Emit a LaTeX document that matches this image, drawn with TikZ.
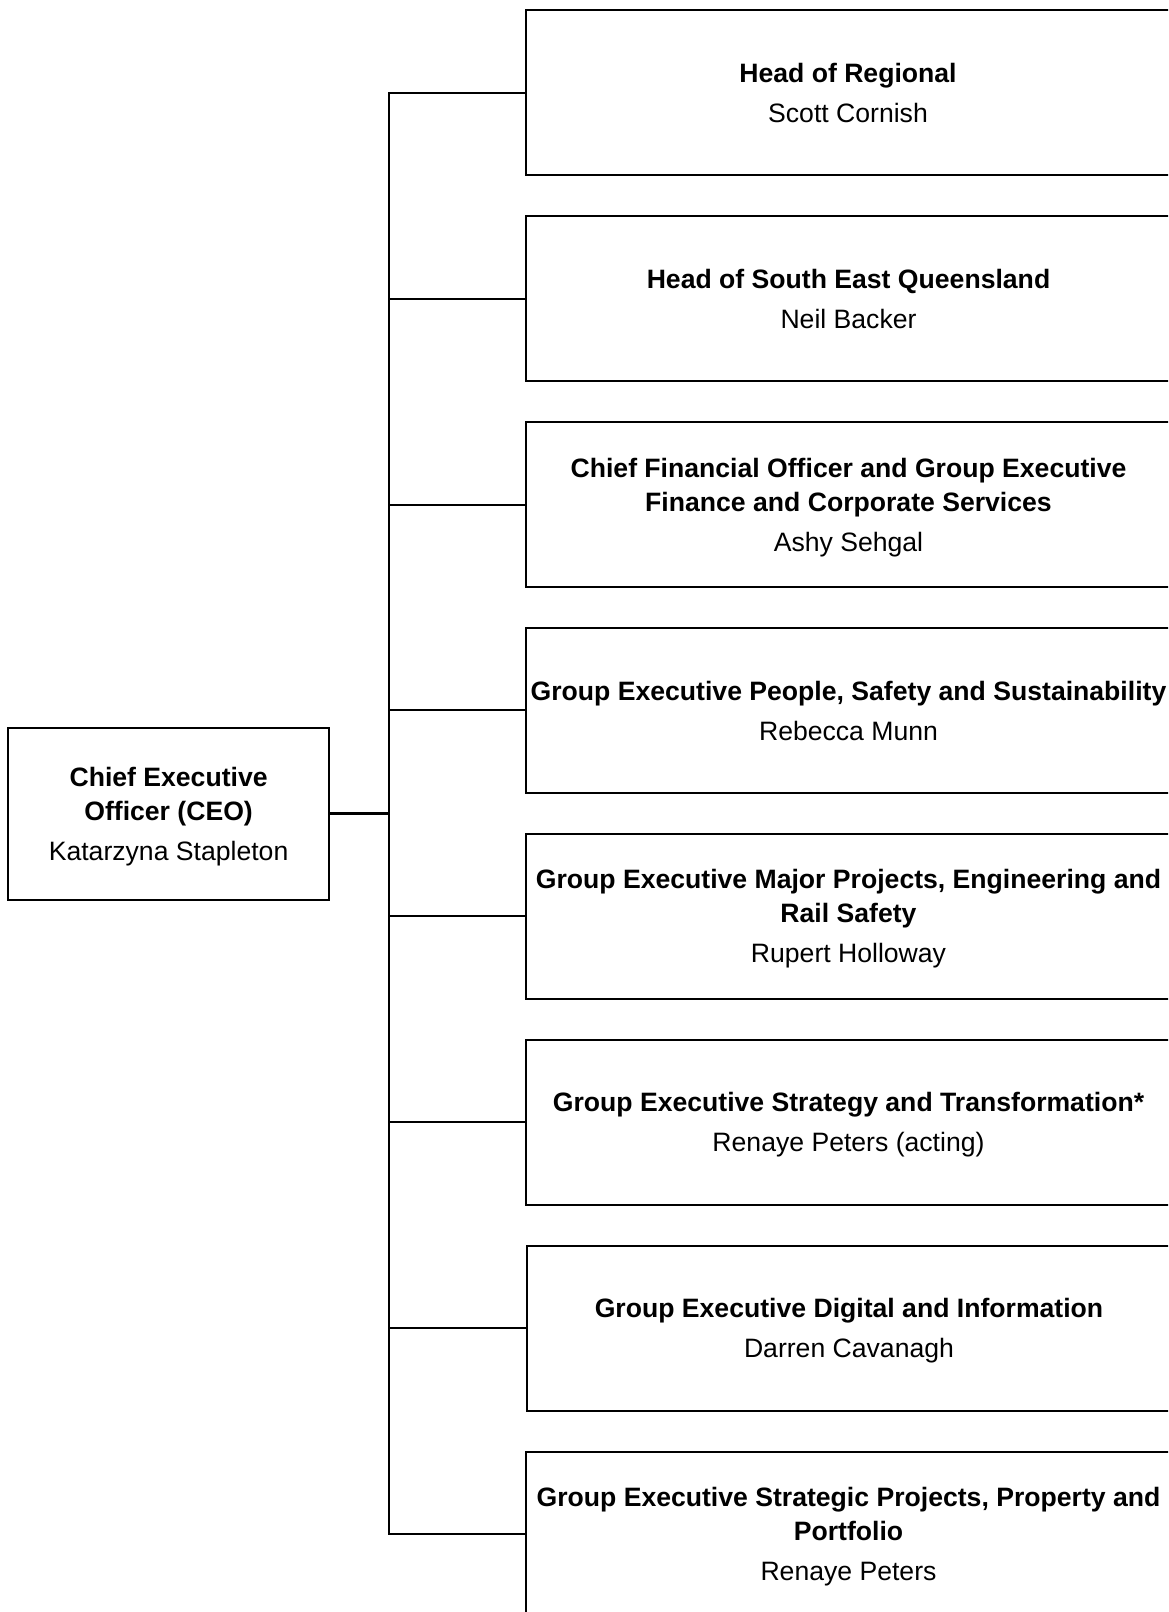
\documentclass[tikz,border=0pt]{standalone}
\usepackage{fontspec}
\setmainfont{Liberation Sans}
\begin{document}
\begin{tikzpicture}[x=1pt,y=-1pt,
  orgbox/.style={draw=black, line width=2pt, rectangle, inner sep=0pt,
    minimum width=645pt, minimum height=164.8pt, align=center, text depth=0pt,
    font=\fontsize{26.6}{34}\selectfont},
  ceobox/.style={orgbox, minimum width=320.8pt, minimum height=171.5pt},
  link/.style={draw=black, line width=2pt}]
\clip (0,0) rectangle (1168,1612);
\fill[white] (0,0) rectangle (1168,1612);
\node[ceobox] (ceo) at (168.6,813.9) {\textbf{Chief Executive}\\\textbf{Officer (CEO)}\\[6pt]Katarzyna Stapleton};
\node[orgbox] (b1) at (848,92.7) {\textbf{Head of Regional}\\[6pt]Scott Cornish};
\node[orgbox] (b2) at (848.5,298.6) {\textbf{Head of South East Queensland}\\[6pt]Neil Backer};
\node[orgbox] (b3) at (848.5,504.5) {\textbf{Chief Financial Officer and Group Executive}\\\textbf{Finance and Corporate Services}\\[6pt]Ashy Sehgal};
\node[orgbox] (b4) at (848.5,710.4) {\textbf{Group Executive People, Safety and Sustainability}\\[6pt]Rebecca Munn};
\node[orgbox] (b5) at (848.5,916.3) {\textbf{Group Executive Major Projects, Engineering and}\\\textbf{Rail Safety}\\[6pt]Rupert Holloway};
\node[orgbox] (b6) at (848.5,1122.2) {\textbf{Group Executive Strategy and Transformation*}\\[6pt]Renaye Peters (acting)};
\node[orgbox] (b7) at (849,1328.1) {\textbf{Group Executive Digital and Information}\\[6pt]Darren Cavanagh};
\node[orgbox] (b8) at (848.5,1534.0) {\textbf{Group Executive Strategic Projects, Property and}\\\textbf{Portfolio}\\[6pt]Renaye Peters};
\coordinate (bus) at (388.6,813.9);
\draw[draw=black, line width=3pt] (ceo.east) -- (bus);
\draw[link, line cap=rect] (b1.west) -- (b1.west -| bus) -- (b8.west -| bus) -- (b8.west);
\foreach \b in {b2,b3,b4,b5,b6,b7}{
  \draw[link] (\b.west) -- (\b.west -| bus);
}
\end{tikzpicture}
\end{document}
